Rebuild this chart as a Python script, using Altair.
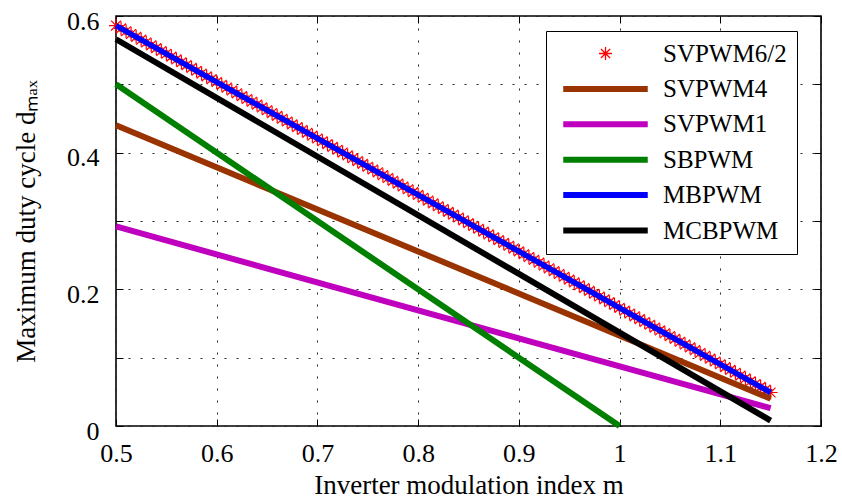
import altair as alt
import numpy as np
import pandas as pd

# ---------------- data ----------------
series = ["SVPWM6/2", "SVPWM4", "SVPWM1", "SBPWM", "MBPWM", "MCBPWM"]
colors = ["#ff0000", "#993300", "#bf00bf", "#007f00", "#0000ff", "#000000"]
m_start = [0.5, 0.5, 0.5, 0.5, 0.5, 0.5]
m_end = [1.15, 1.15, 1.15, 1.0, 1.15, 1.15]
d_start = [0.586, 0.44, 0.292, 0.5, 0.586, 0.566]
d_end = [0.049, 0.04, 0.026, 0.0, 0.049, 0.008]
marker_step = 0.005  # spacing of the SVPWM6/2 asterisks along m
x_ticks = [0.5, 0.6, 0.7, 0.8, 0.9, 1.0, 1.1, 1.2]
y_ticks = [0.0, 0.1, 0.2, 0.3, 0.4, 0.5, 0.6]

# ---------------- tables ----------------
m_grid = np.round(np.arange(m_start[0], m_end[0] + 1e-9, marker_step), 4)
d_grid = d_start[0] + (d_end[0] - d_start[0]) * (m_grid - m_start[0]) / (m_end[0] - m_start[0])
markers = pd.DataFrame({"series": series[0], "m": m_grid, "d": d_grid})

rows = []
for i, s in enumerate(series):
    rows.append({"series": s, "m": m_start[i], "d": d_start[i]})
    rows.append({"series": s, "m": m_end[i], "d": d_end[i]})
lines = pd.DataFrame(rows)

FONT = "Liberation Serif"
W, H = 705, 410

ASTERISK = "M0,-1L0,1M-1,0L1,0M-0.7,-0.7L0.7,0.7M-0.7,0.7L0.7,-0.7"
LINESYM = "M-6.5,0L6.5,0"

xscale = alt.Scale(domain=[0.5, 1.2], nice=False, zero=False)
yscale = alt.Scale(domain=[0, 0.6], nice=False, zero=False)
cscale = alt.Scale(domain=series, range=colors)
sscale = alt.Scale(domain=series, range=[ASTERISK] + [LINESYM] * 5)

legend = alt.Legend(
    title=None, orient="none", legendX=430, legendY=15,
    padding=10, rowPadding=9.4, symbolSize=169, symbolOffset=37,
    labelOffset=45, labelFont=FONT, labelFontSize=25, labelColor="black",
    labelLimit=300, fillColor="white", strokeColor="black",
    symbolStrokeWidth={"expr": "datum.value == 'SVPWM6/2' ? 1.3 : 6"},
    labelExpr="datum.label + '\u00a0\u00a0\u00a0'",
)

grid_common = dict(grid=True, gridDash=[2, 10], gridColor="#222222", gridWidth=1,
                   ticks=False, domain=False, labelFont=FONT, labelFontSize=26,
                   labelColor="black", titleFont=FONT, titleFontSize=27,
                   titleFontWeight="normal", titleColor="black",
                   labelOverlap=False, labelFlush=False)

ax_x_grid = alt.Axis(orient="bottom", values=x_ticks, labelPadding=14,
                     labelExpr="format(datum.value, '~g')",
                     title="Inverter modulation index m", titlePadding=6, **grid_common)
ax_y_grid = alt.Axis(orient="left", values=y_ticks, labelPadding=17, labelOffset=5,
                     labelExpr="round(datum.value*10) % 2 == 0 ? format(datum.value, '~g') : ''",
                     title="Maximum duty cycle d\u2098\u2090\u2093", titlePadding=26, **grid_common)


def tick_axis(orient, vals):
    return alt.Axis(orient=orient, values=vals, offset=-7, ticks=True, tickSize=7,
                    tickColor="black", tickWidth=1, labels=False, domain=False,
                    grid=False, title="")


layers = []
# asterisks (drawn first, underneath)
layers.append(
    alt.Chart(markers).mark_point(filled=False, size=196, opacity=1, strokeWidth=1.2)
    .encode(
        x=alt.X("m:Q", scale=xscale, axis=ax_x_grid),
        y=alt.Y("d:Q", scale=yscale, axis=ax_y_grid),
        color=alt.Color("series:N", scale=cscale, legend=legend),
        shape=alt.Shape("series:N", scale=sscale, legend=legend),
    )
)

axes_for = {
    1: (tick_axis("bottom", x_ticks), tick_axis("left", y_ticks)),
    2: (tick_axis("top", x_ticks), tick_axis("right", y_ticks)),
}
for i in range(1, len(series)):
    s = series[i]
    xa, ya = axes_for.get(i, (None, None))
    xenc = alt.X("m:Q", scale=xscale, axis=xa) if xa is not None else alt.X("m:Q", scale=xscale, axis=None)
    yenc = alt.Y("d:Q", scale=yscale, axis=ya) if ya is not None else alt.Y("d:Q", scale=yscale, axis=None)
    sw = 5.5 if s == "MBPWM" else 6
    layers.append(
        alt.Chart(lines[lines.series == s]).mark_line(strokeWidth=sw, opacity=1)
        .encode(x=xenc, y=yenc,
                color=alt.Color("series:N", scale=cscale, legend=legend))
    )

chart = (
    alt.layer(*layers)
    .resolve_axis(x="independent", y="independent")
    .properties(width=W, height=H, background="white",
                autosize=alt.AutoSizeParams(type="none"),
                padding={"left": 116, "top": 16, "right": 21, "bottom": 77})
    .configure_view(stroke="black", strokeWidth=1.6)
)

chart.save("out.html", embed_options={"renderer": "svg", "actions": False})
